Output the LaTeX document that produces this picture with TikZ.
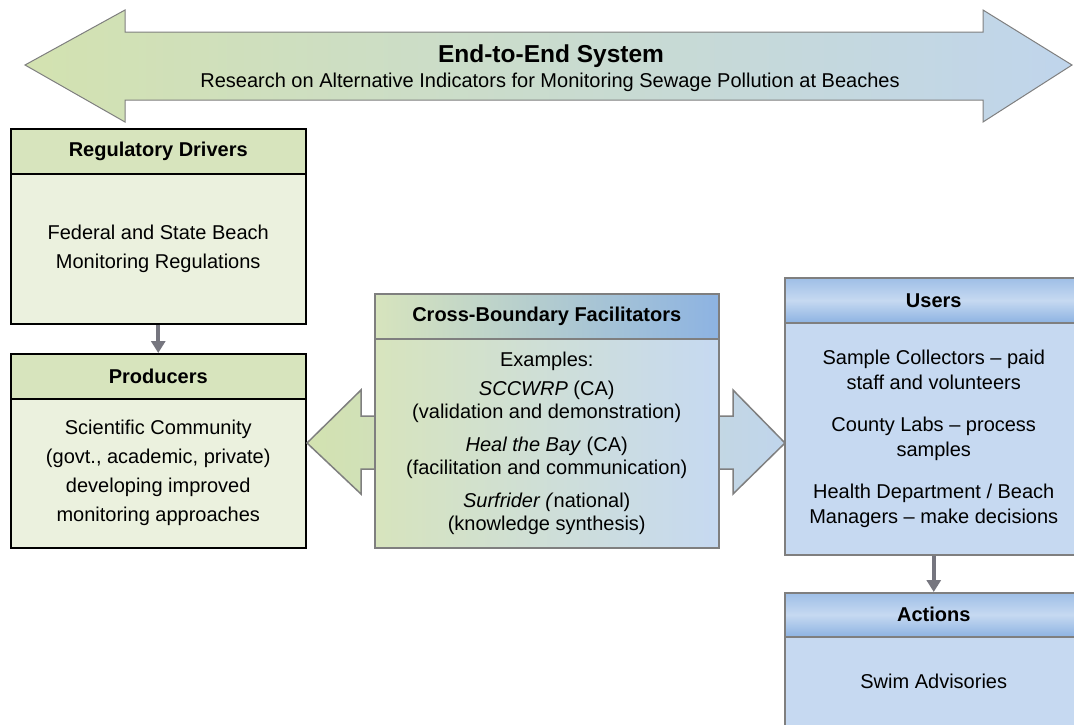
\documentclass[tikz,border=0pt]{standalone}
\usepackage{fontspec}
\setmainfont{Liberation Sans}
\usetikzlibrary{arrows.meta}
\definecolor{greenhead}{HTML}{D7E4BD}
\definecolor{greenbody}{HTML}{EBF1DE}
\definecolor{bluebody}{HTML}{C6D9F1}
\definecolor{bluehead}{HTML}{8DB3E2}
\definecolor{arrowgreen}{HTML}{D3E2B0}
\definecolor{arrowblue}{HTML}{C0D5EC}
\definecolor{edgegray}{HTML}{7F7F7F}
\definecolor{flowgray}{HTML}{76767F}

\begin{document}
\begin{tikzpicture}[x=1pt, y=-1pt,
    head/.style={rectangle, anchor=north west, inner sep=0pt, text centered, font=\fontsize{20}{24}\selectfont\bfseries},
    body/.style={rectangle, anchor=north west, inner sep=0pt, align=center, font=\fontsize{20}{29}\selectfont},
    greenbox/.style={draw=black, line width=1.5pt},
    bluebox/.style={draw=edgegray, line width=1.5pt},
    bluehead/.style={top color=bluehead!85!white, bottom color=bluehead, middle color=bluebody},
    flow/.style={draw=flowgray, line width=4pt, -{Triangle[width=14pt,length=12pt]}}
]
\useasboundingbox (0,0) rectangle (1074,724);
\clip (0,0) rectangle (1074,724);

% end-to-end arrow
\draw[draw=edgegray, line width=1pt, left color=arrowgreen, right color=arrowblue]
    (25,65) -- (125,10) -- (125,32) -- (983,32) -- (983,10) -- (1072,65)
    -- (983,122) -- (983,100) -- (125,100) -- (125,122) -- cycle;
\node[font=\fontsize{24.5}{28}\selectfont\bfseries] (title) at (551,56) {End-to-End System};
\node[font=\fontsize{20}{22}\selectfont] (subtitle) at (550,82)
    {Research on Alternative Indicators for Monitoring Sewage Pollution at Beaches};

% left column
\node[head, greenbox, fill=greenhead, minimum width=295pt, minimum height=45pt] (reghead) at (10,128) {Regulatory Drivers};
\node[body, greenbox, fill=greenbody, minimum width=295pt, minimum height=150pt] (regbody) at (10,173)
    {Federal and State Beach\\ Monitoring Regulations};
\node[head, greenbox, fill=greenhead, minimum width=295pt, minimum height=45pt] (prodhead) at (10,353) {Producers};
\node[body, greenbox, fill=greenbody, minimum width=295pt, minimum height=149pt] (prodbody) at (10,398)
    {Scientific Community\\ (govt., academic, private)\\ developing improved\\ monitoring approaches};

\draw[flow] (regbody.south) -- (prodhead.north);

% facilitators
\draw[draw=edgegray, line width=1.5pt, left color=arrowgreen, right color=arrowblue]
    (307,443) -- (361,390) -- (361,416) -- (733,416) -- (733,390) -- (785,443)
    -- (733,494) -- (733,469) -- (361,469) -- (361,494) -- cycle;
\node[head, bluebox, left color=greenhead, right color=bluehead, minimum width=344pt, minimum height=45pt] (crosshead) at (374,293) {Cross-Boundary Facilitators};
\node[body, bluebox, left color=greenhead, right color=bluebody, minimum width=344pt, minimum height=209pt,
    font=\fontsize{20}{23}\selectfont] (crossbody) at (374,338)
    {Examples:\\[6pt]
     \textit{SCCWRP} (CA)\\ (validation and demonstration)\\[10pt]
     \textit{Heal the Bay} (CA)\\ (facilitation and communication)\\[10pt]
     \textit{Surfrider (}national)\\ (knowledge synthesis)};

% right column
\node[head, bluebox, bluehead, minimum width=298pt, minimum height=45pt] (userhead) at (784,277) {Users};
\node[body, bluebox, fill=bluebody, minimum width=298pt, minimum height=232pt,
    font=\fontsize{20}{24.5}\selectfont] (userbody) at (784,322)
    {Sample Collectors -- paid\\ staff and volunteers\\[18pt]
     County Labs -- process\\ samples\\[18pt]
     Health Department / Beach\\ Managers -- make decisions};
\node[head, bluebox, bluehead, minimum width=298pt, minimum height=44pt] (acthead) at (784,592) {Actions};
\node[body, bluebox, fill=bluebody, minimum width=298pt, minimum height=90pt] (actbody) at (784,636) {Swim Advisories};

\draw[flow] (userbody.south) -- (acthead.north);

\end{tikzpicture}
\end{document}
